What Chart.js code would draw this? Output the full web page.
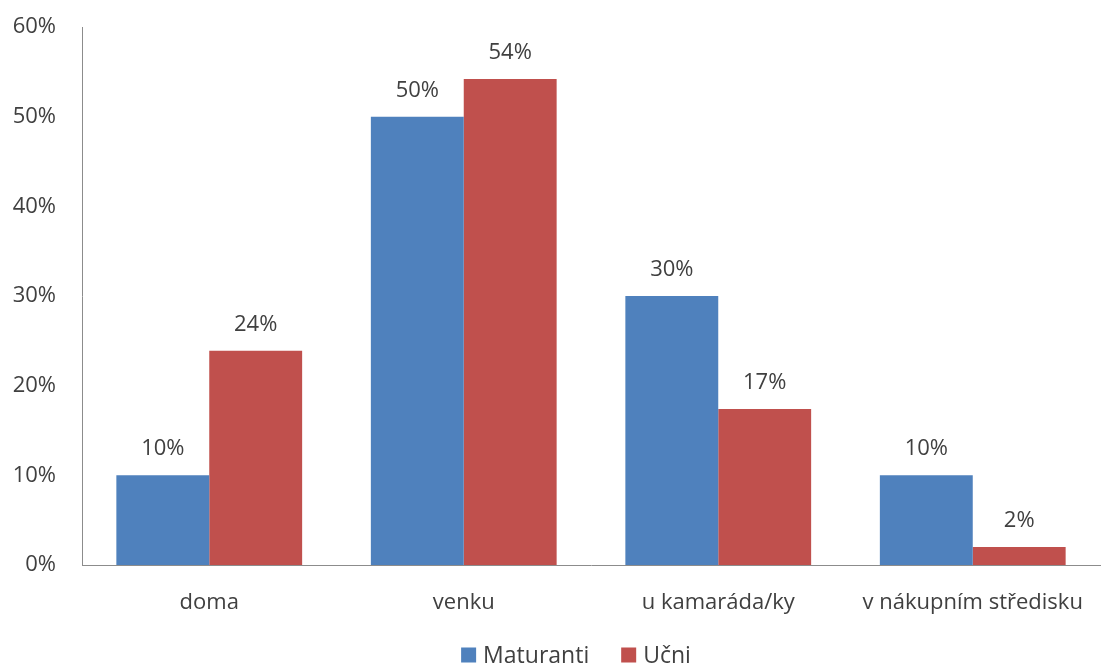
<!DOCTYPE html>
<html>
<head>
<meta charset="utf-8">
<script src="https://cdn.jsdelivr.net/npm/chart.js@4"></script>
<style>
	html, body { margin: 0; padding: 0; background: #fff; }
	#wrap { width: 1102px; height: 664px; }
</style>
</head>
<body>
<div id="wrap"><canvas id="main"></canvas></div>
<script>
// data
var categories = ['doma', 'venku', 'u kamaráda/ky', 'v nákupním středisku'];
var maturanti = [10, 50, 30, 10];
var ucni = [23.9, 54.2, 17.4, 2];
var seriesNames = ['Maturanti', 'Učni'];
var yTicks = [0, 10, 20, 30, 40, 50, 60];

var FONT = '"Open Sans", Lato, sans-serif';
var TEXT = '#404040';

// draws the % value above each bar
var valueLabels = {
	id: 'valueLabels',
	afterDatasetsDraw: function(chart){
		var ctx = chart.ctx;
		ctx.save();
		ctx.font = '22px ' + FONT;
		ctx.fillStyle = TEXT;
		ctx.textAlign = 'center';
		ctx.textBaseline = 'alphabetic';
		chart.data.datasets.forEach(function(ds, i){
			var meta = chart.getDatasetMeta(i);
			meta.data.forEach(function(bar, j){
				ctx.fillText(Math.round(ds.data[j]) + '%', bar.x, bar.y - 20);
			});
		});
		ctx.restore();
	}
};

// legend at the bottom, with the spacing of the original
var bottomLegend = {
	id: 'bottomLegend',
	afterDraw: function(chart){
		var ctx = chart.ctx,
			box = 15, gap = 7, itemGap = 32,
			y = 655;
		ctx.save();
		ctx.font = '23px ' + FONT;
		ctx.textBaseline = 'middle';
		ctx.textAlign = 'left';
		var items = chart.data.datasets.map(function(ds){
			return { text: ds.label, color: ds.backgroundColor, w: ctx.measureText(ds.label).width };
		});
		var total = 0;
		items.forEach(function(it, i){
			total += box + gap + it.w + (i < items.length - 1 ? itemGap : 0);
		});
		var x = chart.width / 2 + 25 - total / 2;
		items.forEach(function(it){
			ctx.fillStyle = it.color;
			ctx.fillRect(x, y - box / 2, box, box);
			ctx.fillStyle = TEXT;
			ctx.fillText(it.text, x + box + gap, y + 1);
			x += box + gap + it.w + itemGap;
		});
		ctx.restore();
	}
};

var ctx = document.getElementById('main').getContext('2d');
var chart = new Chart(ctx, {
	type: 'bar',
	data: {
		labels: categories,
		datasets: [
			{ label: seriesNames[0], data: maturanti, backgroundColor: '#4F81BD' },
			{ label: seriesNames[1], data: ucni, backgroundColor: '#C0504D' }
		]
	},
	options: {
		responsive: true,
		maintainAspectRatio: false,
		animation: false,
		layout: { padding: { top: 27, right: 2, left: 0, bottom: 0 } },
		datasets: {
			bar: { categoryPercentage: 0.73, barPercentage: 1 }
		},
		plugins: {
			legend: { display: false },
			tooltip: { enabled: false }
		},
		scales: {
			x: {
				grid: { display: false },
				border: { display: true, color: '#8c8c8c', width: 1 },
				ticks: { font: { family: FONT, size: 22 }, color: TEXT, padding: 17, maxRotation: 0 },
				afterFit: function(scale){ scale.height = 99; }
			},
			y: {
				min: 0,
				max: 60,
				grid: { display: false },
				border: { display: true, color: '#8c8c8c', width: 1 },
				afterBuildTicks: function(scale){
					scale.ticks = yTicks.map(function(v){ return { value: v }; });
				},
				ticks: {
					font: { family: FONT, size: 22 },
					color: TEXT,
					padding: 18,
					callback: function(v){ return v + '%'; }
				},
				afterFit: function(scale){
					scale.width = 82;
					scale.paddingTop = 0;
					scale.paddingBottom = 0;
				}
			}
		}
	},
	plugins: [valueLabels, bottomLegend]
});
</script>
</body>
</html>
